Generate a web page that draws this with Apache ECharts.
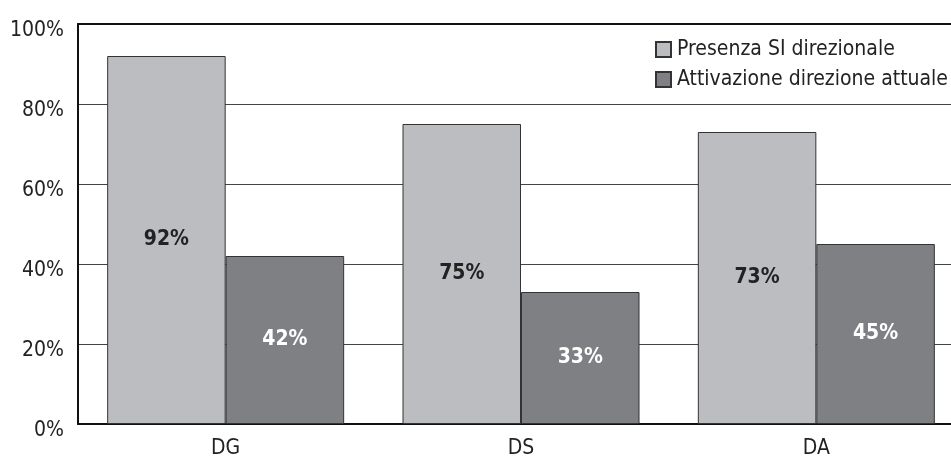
<!DOCTYPE html>
<html>
<head>
<meta charset="utf-8">
<script src="https://cdn.jsdelivr.net/npm/echarts@6/dist/echarts.min.js"></script>
<style>
html,body{margin:0;padding:0;background:#fff;}
#chart{width:951px;height:460px;}
</style>
</head>
<body>
<div id="chart"></div>
<script>
var categories = ['DG', 'DS', 'DA'];
var seriesNames = ['Presenza SI direzionale', 'Attivazione direzione attuale'];
var presenza = [92, 75, 73];
var attivazione = [42, 33, 45];
var yTicks = [0, 20, 40, 60, 80, 100];

var FONT = "'DejaVu Sans Condensed', 'Liberation Sans Narrow', 'Liberation Sans', sans-serif";

var chart = echarts.init(document.getElementById('chart'), null, {renderer: 'canvas'});
chart.setOption({
  animation: false,
  backgroundColor: '#ffffff',
  textStyle: {fontFamily: FONT},
  legend: {
    orient: 'vertical',
    left: 650,
    top: 34,
    itemWidth: 15,
    itemHeight: 15,
    itemGap: 9,
    icon: 'rect',
    textStyle: {fontFamily: FONT, fontSize: 21, color: '#222', padding: [0, 0, 0, 1]},
    data: seriesNames
  },
  grid: {left: 78, top: 24, width: 886, height: 400, containLabel: false, outerBoundsMode: 'none'},
  xAxis: [{
    type: 'category',
    data: categories,
    axisLine: {show: true, lineStyle: {color: '#111', width: 2}},
    axisTick: {show: false},
    axisLabel: {fontFamily: FONT, fontSize: 21, color: '#222', margin: 14}
  }, {
    type: 'category',
    position: 'top',
    data: categories,
    axisLine: {show: true, lineStyle: {color: '#111', width: 2}},
    axisTick: {show: false},
    axisLabel: {show: false}
  }],
  yAxis: {
    type: 'value',
    min: yTicks[0],
    max: yTicks[yTicks.length - 1],
    interval: yTicks[1] - yTicks[0],
    axisLine: {show: true, lineStyle: {color: '#111', width: 2}},
    axisTick: {show: false},
    axisLabel: {fontFamily: FONT, fontSize: 21, color: '#222', margin: 14, formatter: '{value}%', verticalAlign: 'top', lineHeight: 14},
    splitLine: {show: true, lineStyle: {color: '#444', width: 1.2}}
  },
  series: [{
    name: seriesNames[0],
    type: 'bar',
    xAxisIndex: 0,
    data: presenza,
    barWidth: 118.5,
    barGap: '0%',
    itemStyle: {color: '#bcbdc0', borderColor: '#333', borderWidth: 1},
    label: {show: true, position: 'inside', formatter: '{c}%', fontFamily: FONT, fontSize: 21, fontWeight: 'bold', color: '#222'}
  }, {
    name: seriesNames[1],
    type: 'bar',
    xAxisIndex: 0,
    data: attivazione,
    barWidth: 118.5,
    barGap: '0%',
    itemStyle: {color: '#7f8083', borderColor: '#333', borderWidth: 1},
    label: {show: true, position: 'inside', formatter: '{c}%', fontFamily: FONT, fontSize: 21, fontWeight: 'bold', color: '#ffffff'}
  }]
});
</script>
</body>
</html>
